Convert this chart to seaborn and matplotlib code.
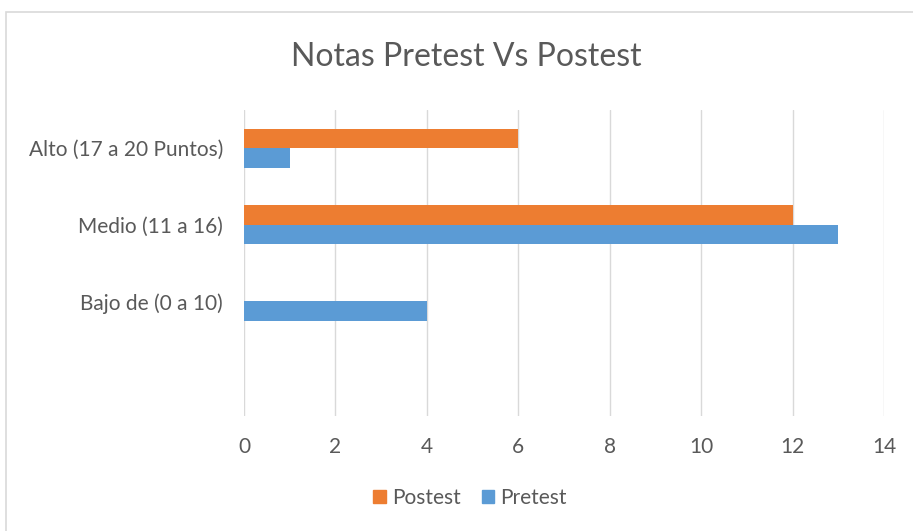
import matplotlib
matplotlib.use("Agg")
import matplotlib.pyplot as plt
import matplotlib.patches as mpatches
import pandas as pd
import seaborn as sns

# data
categories = ["Alto (17 a 20 Puntos)", "Medio (11 a 16)", "Bajo de (0 a 10)"]
postest = [6, 12, 0]
pretest = [1, 13, 4]
series = ["Postest", "Pretest"]
x_ticks = [0, 2, 4, 6, 8, 10, 12, 14]

orange = "#ED7D31"
blue = "#5B9BD5"
txt = "#595959"
grid = "#D9D9D9"

df = pd.DataFrame({
    "cat": categories * 2,
    "serie": ["Postest"] * 3 + ["Pretest"] * 3,
    "val": postest + pretest,
})

sns.set_theme(style="white")
plt.rcParams["font.family"] = ["Lato", "DejaVu Sans"]

W, H = 913, 531
fig = plt.figure(figsize=(W / 100, H / 100), dpi=100)
# chart frame like the Excel chart area
fig.patches.append(mpatches.Rectangle((6 / W, -0.2), 1.2, 1.2 - 12 / H, transform=fig.transFigure,
                                      fill=False, edgecolor=grid, linewidth=1.2))

ax = fig.add_axes([244 / W, 115 / H, 640 / W, 306 / H])
order = categories + [" "]
sns.barplot(data=df, y="cat", x="val", hue="serie", order=order, hue_order=series,
            palette=[orange, blue], orient="h", width=0.51, gap=0, saturation=1,
            linewidth=0, ax=ax, legend=False)

ax.set_xlim(0, 14)
ax.set_xticks(x_ticks)
ax.xaxis.grid(True, color=grid, linewidth=1)
ax.set_axisbelow(True)
for s in ax.spines.values():
    s.set_visible(False)
ax.tick_params(axis="both", length=0, labelsize=15, labelcolor=txt)
ax.tick_params(axis="x", pad=15)
ax.tick_params(axis="y", pad=15)
ax.set_xlabel("")
ax.set_ylabel("")

fig.text(466 / W, 1 - 57 / H, "Notas Pretest Vs Postest", ha="center", va="center",
         fontsize=23, color=txt)

handles = [mpatches.Patch(color=orange, label="Postest"), mpatches.Patch(color=blue, label="Pretest")]
fig.legend(handles=handles, loc="center", bbox_to_anchor=(470 / W, 1 - 498 / H), ncol=2,
           frameon=False, fontsize=15, labelcolor=txt, handlelength=0.6, handleheight=0.6,
           handletextpad=0.3, columnspacing=1.0)

fig.savefig("out.png", dpi=100)
